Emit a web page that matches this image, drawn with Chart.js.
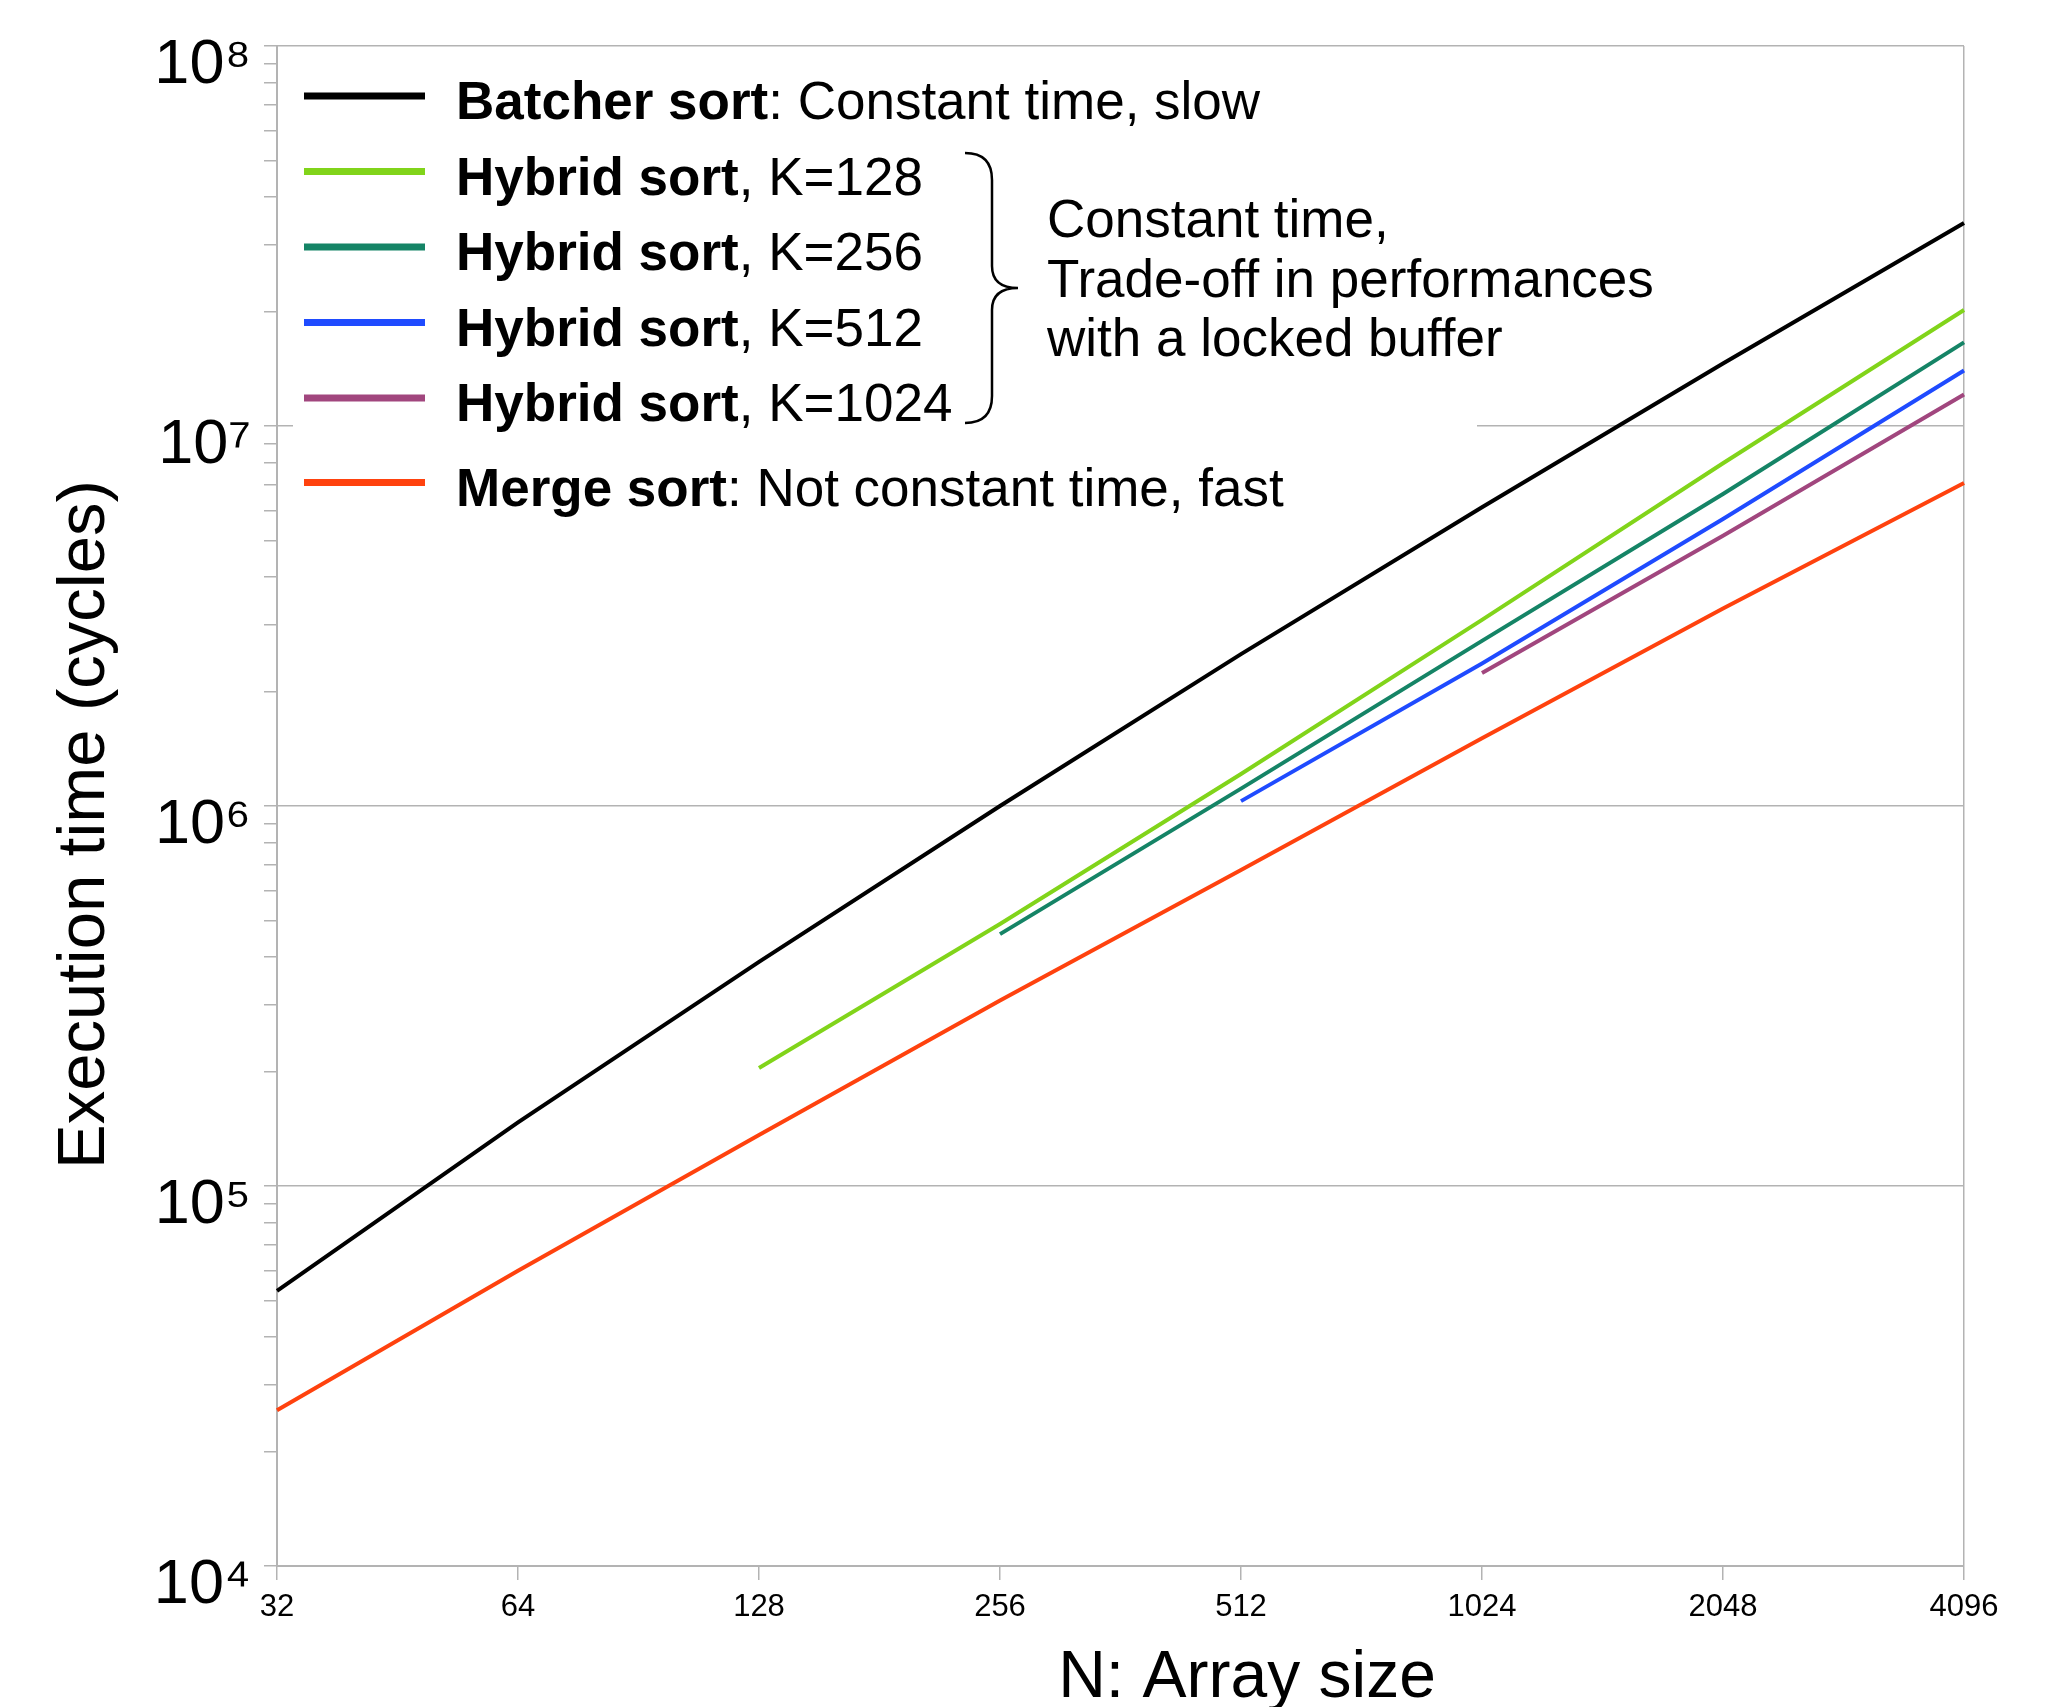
<!DOCTYPE html>
<html>
<head>
<meta charset="utf-8">
<script src="https://cdn.jsdelivr.net/npm/chart.js@4.4.1/dist/chart.umd.min.js"></script>
<style>
  body { margin: 0; background: #fff; }
  canvas { display: block; }
</style>
</head>
<body>
<canvas id="sortChart" width="2051" height="1707"></canvas>
<script>
// values (cycles), x = array size N
const arraySizes = ['32', '64', '128', '256', '512', '1024', '2048', '4096'];
const batcherSort = [53000, 147000, 389000, 1000000, 2510000, 6110000, 14600000, 34200000];
const hybridK128 = [null, null, 204500, 489000, 1214000, 3090000, 7980000, 20200000];
const hybridK256 = [null, null, null, 460000, 1111000, 2720000, 6620000, 16600000];
const hybridK512 = [null, null, null, null, 1030000, 2370000, 5690000, 14000000];
const hybridK1024 = [null, null, null, null, null, 2240000, 5140000, 12100000];
const mergeSort = [25700, 59800, 136300, 307500, 679000, 1507000, 3310000, 7080000];

const seriesNames = ['Batcher sort', 'Hybrid sort', 'Hybrid sort', 'Hybrid sort', 'Hybrid sort', 'Merge sort'];
const seriesNotes = [': Constant time, slow', ', K=128', ', K=256', ', K=512', ', K=1024', ': Not constant time, fast'];
const seriesColors = ['#000000', '#81d41a', '#158466', '#1f4bff', '#a1467e', '#ff420e'];

const yDecades = [1e4, 1e5, 1e6, 1e7, 1e8];
const yMinorSteps = [2, 3, 4, 5, 6, 7, 8, 9];
const superDigits = { 4: '⁴', 5: '⁵', 6: '⁶', 7: '⁷', 8: '⁸' };
const annotationLines = ['Constant time,', 'Trade-off in performances', 'with a locked buffer'];
const xTitle = 'N: Array size';

var yTickValues = [];
yDecades.forEach(function (d, i) {
  yTickValues.push(d);
  if (i < yDecades.length - 1) yMinorSteps.forEach(function (m) { yTickValues.push(d * m); });
});

const FONT = '"Liberation Sans", Arial, sans-serif';
const GRID = '#b3b3b3';

function isDecade(v) {
  return yDecades.indexOf(v) !== -1;
}

// legend box, brace note and x title are drawn by hand (mixed bold/regular text)
const notesPlugin = {
  id: 'sortNotes',
  beforeDatasetsDraw(chart) {
    const ctx = chart.ctx;
    const a = chart.chartArea;
    ctx.save();
    ctx.fillStyle = '#ffffff';
    ctx.fillRect(a.left + 16, a.top + 14, 1184, 460);

    chart.data.datasets.forEach(function (ds, i) {
      var y = a.top + 50 + i * 75.5 + (i === 5 ? 9 : 0);
      ctx.strokeStyle = ds.borderColor;
      ctx.lineWidth = 7;
      ctx.beginPath();
      ctx.moveTo(a.left + 27, y);
      ctx.lineTo(a.left + 148, y);
      ctx.stroke();

      ctx.fillStyle = '#000';
      ctx.textBaseline = 'alphabetic';
      ctx.textAlign = 'left';
      ctx.font = 'bold 53px ' + FONT;
      ctx.fillText(ds.label, a.left + 179, y + 23);
      var w = ctx.measureText(ds.label).width;
      ctx.font = '53px ' + FONT;
      ctx.fillText(seriesNotes[i], a.left + 179 + w, y + 23);
    });

    // curly brace
    var bx = a.left + 715, tip = a.left + 741, y0 = a.top + 107, ym = a.top + 242, y1 = a.top + 377;
    ctx.strokeStyle = '#000';
    ctx.lineWidth = 2.5;
    ctx.beginPath();
    ctx.moveTo(a.left + 688, y0);
    ctx.quadraticCurveTo(bx, y0, bx, y0 + 27);
    ctx.lineTo(bx, ym - 22);
    ctx.quadraticCurveTo(bx, ym, tip, ym);
    ctx.quadraticCurveTo(bx, ym, bx, ym + 22);
    ctx.lineTo(bx, y1 - 27);
    ctx.quadraticCurveTo(bx, y1, a.left + 688, y1);
    ctx.stroke();

    ctx.font = '53px ' + FONT;
    ctx.fillStyle = '#000';
    annotationLines.forEach(function (t, i) {
      ctx.fillText(t, a.left + 770, a.top + 191 + i * 59.5);
    });
    ctx.restore();
  },
  afterDraw(chart) {
    const ctx = chart.ctx;
    const a = chart.chartArea;
    ctx.save();
    ctx.font = '66px ' + FONT;
    ctx.fillStyle = '#000';
    ctx.textAlign = 'center';
    ctx.textBaseline = 'alphabetic';
    ctx.fillText(xTitle, a.left + 970, chart.height - 10);
    ctx.restore();
  }
};

var datasets = [batcherSort, hybridK128, hybridK256, hybridK512, hybridK1024, mergeSort].map(function (vals, i) {
  return {
    label: seriesNames[i],
    data: vals,
    borderColor: seriesColors[i],
    backgroundColor: seriesColors[i],
    borderWidth: 4,
    pointRadius: 0,
    tension: 0,
    spanGaps: false,
    fill: false
  };
});

var ctxLine = document.getElementById('sortChart').getContext('2d');
var sortChart = new Chart(ctxLine, {
  type: 'line',
  data: {
    labels: arraySizes,
    datasets: datasets
  },
  options: {
    responsive: false,
    animation: false,
    layout: { padding: { top: 46, right: 87, left: 0, bottom: 0 } },
    plugins: {
      legend: { display: false },
      tooltip: { enabled: false }
    },
    scales: {
      x: {
        type: 'category',
        offset: false,
        grid: {
          color: function (c) { return c.index === arraySizes.length - 1 ? GRID : 'rgba(0,0,0,0)'; },
          tickColor: GRID,
          tickLength: 14,
          lineWidth: 1.5
        },
        border: { color: GRID, width: 2 },
        ticks: {
          font: { family: FONT, size: 31 },
          color: '#000',
          padding: 9,
          maxRotation: 0,
          autoSkip: false
        },
        afterFit: function (s) { s.height = 141; s.paddingLeft = 0; s.paddingRight = 0; }
      },
      y: {
        type: 'logarithmic',
        min: 1e4,
        max: 1e8,
        afterBuildTicks: function (s) {
          s.ticks = yTickValues.map(function (v) { return { value: v }; });
        },
        grid: {
          color: function (c) { return c.tick && isDecade(c.tick.value) ? GRID : 'rgba(0,0,0,0)'; },
          tickColor: GRID,
          tickLength: 13,
          lineWidth: 1.5
        },
        border: { color: GRID, width: 2 },
        ticks: {
          autoSkip: false,
          font: { family: FONT, size: 63 },
          color: '#000',
          padding: 13,
          labelOffset: 20,
          callback: function (v) {
            if (!isDecade(v)) return '';
            return '10' + superDigits[Math.round(Math.log10(v))];
          }
        },
        title: {
          display: true,
          text: 'Execution time (cycles)  ',
          font: { family: FONT, size: 67 },
          color: '#000',
          padding: { top: 45, bottom: 0 }
        },
        afterFit: function (s) { s.width = 277; s.paddingTop = 0; s.paddingBottom = 0; }
      }
    }
  },
  plugins: [notesPlugin]
});
</script>
</body>
</html>
